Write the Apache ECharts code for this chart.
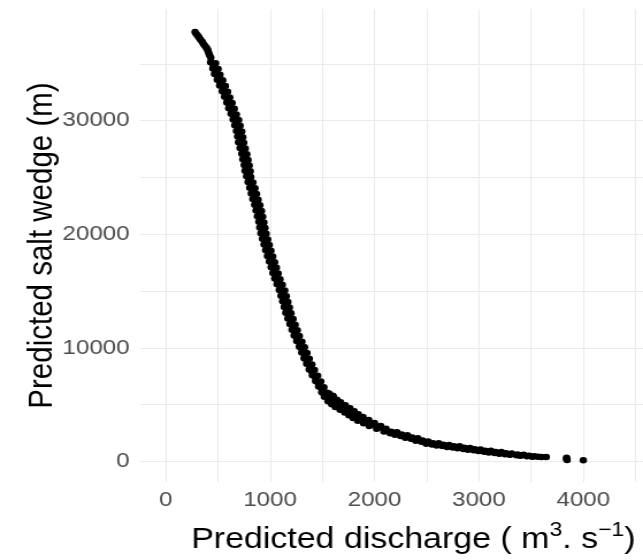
<!DOCTYPE html>
<html><head><meta charset="utf-8">
<script src="https://cdn.jsdelivr.net/npm/echarts@6/dist/echarts.min.js"></script>
<style>
html,body{margin:0;padding:0;background:#fff;overflow:hidden;}
#chart{width:559px;height:560px;transform-origin:0 0;}
</style></head><body>
<div id="chart"></div>
<script>
// Top, thin part of the curve
const topDischarge = [281,292,305,318,332,350,362,375,388,398,405,412,420,432];
const topWedge = [37800,37650,37500,37350,37150,36950,36750,36600,36450,36300,36150,35950,35750,35550];

// Steep part of the curve
const steepDischarge = [
430,455,478, 452,476,502, 468,496,520, 494,519,546, 517,544,572, 542,566,593, 564,591,613, 585,609,636, 604,631,657, 626,650,677,
646,673,699, 662,690,713, 678,702,728, 689,713,738, 697,725,747, 712,736,762, 729,753,777, 739,763,789, 752,776,800, 760,788,810,
775,797,815, 789,813,835, 805,829,855, 820,848,870, 835,859,885, 852,880,902, 866,894,918, 879,903,929, 892,916,940, 901,929,951,
912,936,962, 927,955,977, 942,966,992, 958,986,1008, 975,999,1025, 993,1021,1043, 1010,1034,1060, 1027,1055,1077, 1045,1069,1095, 1067,1095,1117,
1088,1112,1140, 1104,1133,1155, 1120,1144,1170, 1135,1163,1185, 1150,1174,1200, 1170,1198,1220, 1190,1214,1240, 1210,1238,1260, 1230,1254,1280, 1255,1283,1305,
1280,1304,1330, 1303,1331,1353, 1325,1349,1375, 1350,1378,1400, 1375,1399,1425, 1405,1433,1455, 1435,1459,1485, 1465,1493,1515, 1495,1519,1545
];
const steepWedge = [
35150,34950,35050, 34600,34450,34550, 34100,33950,34050, 33600,33450,33550, 33100,32950,33050, 32600,32450,32550, 32100,31950,32050, 31600,31450,31550, 31100,30950,31050, 30600,30450,30550,
30100,29950,30050, 29600,29450,29550, 29100,28950,29050, 28600,28450,28550, 28100,27950,28050, 27600,27450,27550, 27100,26950,27050, 26600,26450,26550, 26100,25950,26050, 25600,25450,25550,
25100,24950,25050, 24600,24450,24550, 24100,23950,24050, 23600,23450,23550, 23100,22950,23050, 22600,22450,22550, 22100,21950,22050, 21600,21450,21550, 21100,20950,21050, 20600,20450,20550,
20100,19950,20050, 19600,19450,19550, 19100,18950,19050, 18600,18450,18550, 18100,17950,18050, 17600,17450,17550, 17100,16950,17050, 16600,16450,16550, 16100,15950,16050, 15600,15450,15550,
15100,14950,15050, 14600,14450,14550, 14100,13950,14050, 13600,13450,13550, 13100,12950,13050, 12600,12450,12550, 12100,11950,12050, 11600,11450,11550, 11100,10950,11050, 10600,10450,10550,
10100,9950,10050, 9600,9450,9550, 9100,8950,9050, 8600,8450,8550, 8100,7950,8050, 7600,7450,7550, 7100,6950,7050, 6600,6450,6550, 6100,5950,6050
];

// Bend of the curve
const bendDischarge = [1520,1540,1565, 1550,1575,1600, 1555,1580,1605, 1590,1615,1640, 1625,1650,1675, 1670,1695,1720, 1715,1740,1765, 1755,1780,1805, 1795,1820,1845, 1840,1865,1890, 1895,1920,1945, 1950,1975,2000, 2020,2040,2060];
const bendWedge = [5700,5850,6000, 5550,5650,5800, 5300,5500,5720, 5050,5250,5450, 4800,5000,5220, 4560,4750,4950, 4320,4500,4690, 4080,4250,4430, 3840,4000,4170, 3600,3750,3910, 3360,3500,3650, 3120,3250,3390, 2880,3000,3130];

// Long flat tail
const tailDischarge = [2090,2100,2110, 2150,2160, 2195,2205,2215, 2250,2260, 2295,2305,2315, 2350,2360, 2395,2405,2415, 2450,2460, 2495,2505,2515, 2550,2560, 2595,2605,2615, 2650,2660, 2695,2705,2715, 2750,2760, 2795,2805,2815, 2850,2860, 2895,2905,2915, 2950,2960, 2995,3005,3015, 3050,3060, 3095,3105,3115, 3150,3160, 3195,3205,3215, 3250,3260, 3295,3305,3315, 3360,3370, 3395,3410,3430, 3460,3480, 3510,3530, 3565,3600, 3645, 3840,3840,3845, 4000];
const tailWedge = [2650,2750,2880, 2480,2630, 2350,2450,2580, 2240,2380, 2100,2200,2320, 2000,2120, 1830,1920,2040, 1740,1860, 1560,1650,1760, 1500,1620, 1410,1500,1600, 1360,1470, 1280,1370,1460, 1230,1340, 1170,1260,1340, 1110,1220, 1040,1120,1200, 990,1090, 920,1000,1070, 870,960, 800,880,950, 760,840, 690,760,830, 650,730, 590,650,710, 560,630, 500,550,600, 470,520, 430,470, 420,410, 390, 330,230,130, 110];

const xTickLabels = [0, 1000, 2000, 3000, 4000];
const yTickLabels = [0, 10000, 20000, 30000];

function pairs(xs, ys) {
  const n = Math.min(xs.length, ys.length);
  const out = [];
  for (let i = 0; i < n; i++) out.push([xs[i], ys[i]]);
  return out;
}
const points = [].concat(
  pairs(topDischarge, topWedge),
  pairs(steepDischarge, steepWedge),
  pairs(bendDischarge, bendWedge),
  pairs(tailDischarge, tailWedge)
);

const el = document.getElementById('chart');
const S = 643 / 559;
el.style.transform = 'scaleX(' + S + ')';
const FONT = "'Liberation Sans', Arial, sans-serif";
const gridColor = '#ebebeb';

const chart = echarts.init(el, null, {renderer: 'canvas'});
chart.setOption({
  animation: false,
  backgroundColor: '#ffffff',
  grid: {left: 140 / S, right: 0, top: 9, bottom: 77, containLabel: false},
  xAxis: {
    type: 'value', min: -246, max: 4572, splitNumber: 5,
    axisLine: {show: false}, axisTick: {show: false},
    axisLabel: {
      margin: 8, color: '#4d4d4d', fontSize: 21, fontFamily: FONT,
      showMinLabel: false, showMaxLabel: false,
      formatter: v => xTickLabels.includes(v) ? String(v) : ''
    },
    splitLine: {show: true, showMinLine: false, showMaxLine: false, lineStyle: {color: gridColor, width: 1}},
    minorTick: {show: false, splitNumber: 2},
    minorSplitLine: {show: true, lineStyle: {color: gridColor, width: 1}},
    name: '{t|Predicted discharge ( m}{s|3}{t|. s}{s|\u22121}{t|)}',
    nameLocation: 'middle', nameGap: 38, nameMoveOverlap: false,
    nameTextStyle: {
      padding: [0, 0, 0, 38],
      rich: {
        t: {fontSize: 29.5, fontFamily: FONT, color: '#000', lineHeight: 40, verticalAlign: 'middle'},
        s: {fontSize: 20, fontFamily: FONT, color: '#000', lineHeight: 16, verticalAlign: 'top'}
      }
    }
  },
  yAxis: {
    type: 'value', min: -1800, max: 39830, splitNumber: 5,
    axisLine: {show: false}, axisTick: {show: false},
    axisLabel: {
      margin: 9, color: '#4d4d4d', fontSize: 21, fontFamily: FONT,
      showMinLabel: false, showMaxLabel: false,
      formatter: v => yTickLabels.includes(v) ? String(v) : ''
    },
    splitLine: {show: true, showMinLine: false, showMaxLine: false, lineStyle: {color: gridColor, width: 1}},
    minorTick: {show: false, splitNumber: 2},
    minorSplitLine: {show: true, lineStyle: {color: gridColor, width: 1}},
    name: 'Predicted salt wedge (m)',
    nameLocation: 'middle', nameGap: 70, nameRotate: 90, nameMoveOverlap: false,
    nameTextStyle: {fontSize: 29.5, fontFamily: FONT, color: '#000'}
  },
  series: [{
    type: 'scatter',
    data: points,
    symbol: 'circle',
    symbolSize: 6.5,
    itemStyle: {color: '#000', opacity: 1},
    silent: true
  }]
});
</script>
</body></html>
